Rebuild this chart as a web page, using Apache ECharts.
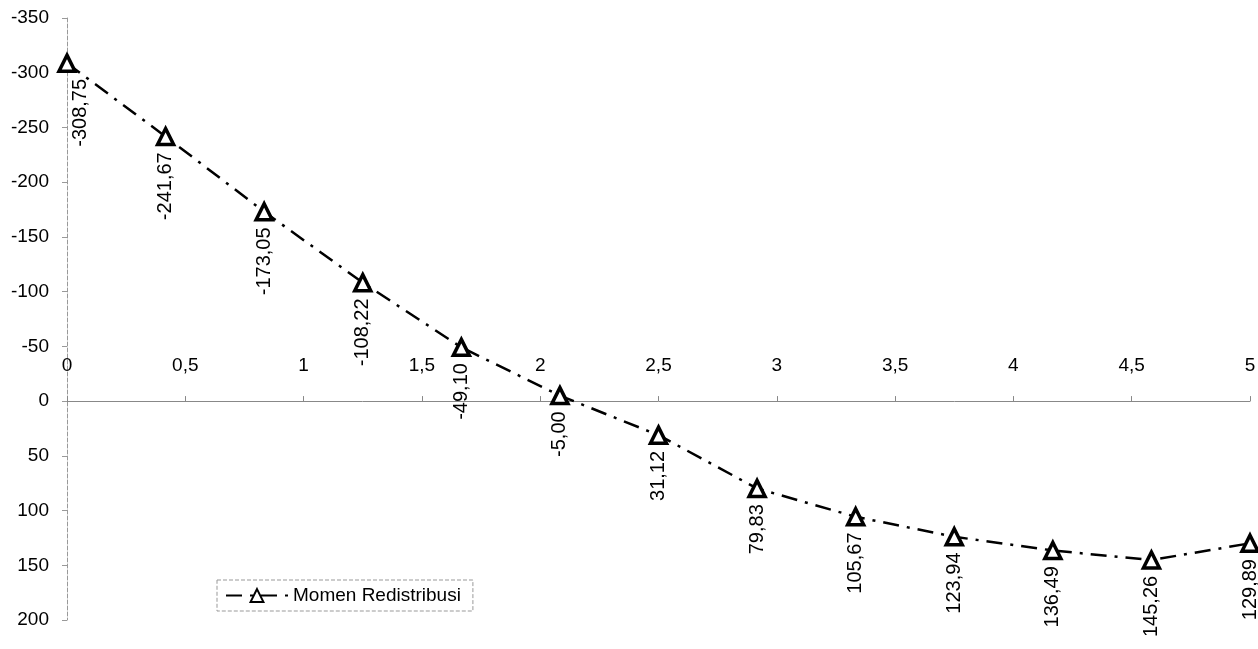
<!DOCTYPE html>
<html>
<head>
<meta charset="utf-8">
<script src="https://cdn.jsdelivr.net/npm/echarts@6/dist/echarts.min.js"></script>
<style>
html, body { margin: 0; padding: 0; background: #fff; }
#momen { width: 1258px; height: 649px; }
</style>
</head>
<body>
<div id="momen"></div>
<script>
var jarak = [0, 0.4167, 0.8333, 1.25, 1.6667, 2.0833, 2.5, 2.9167, 3.3333, 3.75, 4.1667, 4.5833, 5];
var momen = [-308.75, -241.67, -173.05, -108.22, -49.10, -5.00, 31.12, 79.83, 105.67, 123.94, 136.49, 145.26, 129.89];
var xTicks = [0, 0.5, 1, 1.5, 2, 2.5, 3, 3.5, 4, 4.5, 5];
var yTicks = [-350, -300, -250, -200, -150, -100, -50, 0, 50, 100, 150, 200];

loadMomen();

function koma(v) {
    return String(v).replace('.', ',');
}

function loadMomen() {
    var chart = echarts.init(document.getElementById('momen'));

    var gridTop = 18, gridBottom = 29, tinggi = 649;
    var yMin = yTicks[0], yMax = yTicks[yTicks.length - 1];
    // jarak garis sumbu x (nilai 0) dari tepi atas grid
    var geserX = (0 - yMin) / (yMax - yMin) * (tinggi - gridTop - gridBottom);

    var data = jarak.map(function (x, i) {
        var item = { value: [x, momen[i]] };
        if (i === 0) {
            // label pertama sedikit ke kanan, seperti aslinya
            item.label = { offset: [0, 13] };
        }
        return item;
    });

    var option = {
        animation: false,
        textStyle: { fontFamily: 'Liberation Sans, Arial, sans-serif' },
        legend: {
            left: 217,
            top: 580,
            itemWidth: 62,
            itemHeight: 16,
            padding: [6, 12, 6, 8],
            borderColor: '#999',
            borderWidth: 1,
            borderType: 'dashed',
            textStyle: { fontSize: 19, color: '#000' },
            data: ['Momen Redistribusi']
        },
        grid: {
            left: 67,
            right: 8,
            top: gridTop,
            bottom: gridBottom,
            outerBoundsMode: 'none'
        },
        xAxis: {
            type: 'value',
            min: xTicks[0],
            max: xTicks[xTicks.length - 1],
            interval: 0.5,
            position: 'top',
            offset: -geserX,
            axisLine: { onZero: false, lineStyle: { color: '#888', width: 1 } },
            axisTick: { show: true, length: 5, lineStyle: { color: '#888' } },
            axisLabel: {
                margin: 26,
                fontSize: 19,
                color: '#000',
                formatter: function (v) { return koma(v); }
            },
            splitLine: { show: false }
        },
        yAxis: {
            type: 'value',
            inverse: true,
            min: yMin,
            max: yMax,
            interval: 50,
            axisLine: { show: true, lineStyle: { color: '#999', width: 1, type: 'dashed' } },
            axisTick: { show: true, length: 5, lineStyle: { color: '#999' } },
            axisLabel: { margin: 18, fontSize: 19, color: '#000' },
            splitLine: { show: false }
        },
        series: [{
            name: 'Momen Redistribusi',
            type: 'line',
            data: data,
            symbol: 'triangle',
            symbolSize: 16,
            itemStyle: { color: '#fff', borderColor: '#000', borderWidth: 3.5 },
            lineStyle: { color: '#000', width: 2.5, type: [16, 8, 3, 8] },
            label: {
                show: true,
                position: 'bottom',
                distance: 6,
                rotate: 90,
                align: 'right',
                verticalAlign: 'middle',
                fontSize: 20,
                color: '#000',
                formatter: function (p) { return koma(p.value[1].toFixed(2)); }
            }
        }]
    };

    chart.setOption(option);
}
</script>
</body>
</html>
